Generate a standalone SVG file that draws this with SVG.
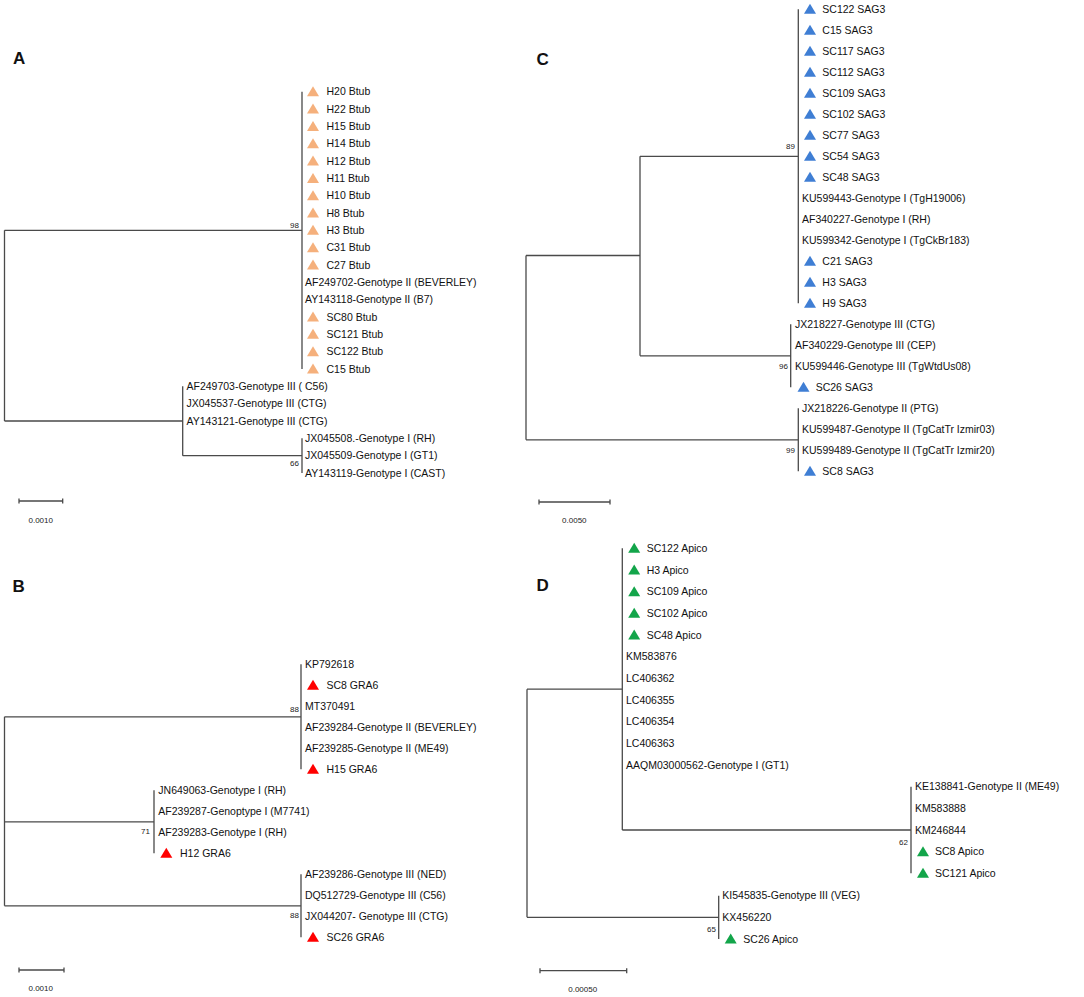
<svg xmlns="http://www.w3.org/2000/svg" xmlns:xlink="http://www.w3.org/1999/xlink" width="1084" height="997" viewBox="0 0 1084 997">
<style>
.t{font-family:"Liberation Sans",Arial,sans-serif;font-size:10.5px;fill:#111}
.bs{font-family:"Liberation Sans",Arial,sans-serif;font-size:8px;fill:#222;text-anchor:end}
.sc{font-family:"Liberation Sans",Arial,sans-serif;font-size:8px;fill:#222;text-anchor:middle}
.pl{font-family:"Liberation Sans",Arial,sans-serif;font-size:17px;font-weight:bold;fill:#111}
.br{stroke:#4a4a4a;stroke-width:1.3;fill:none}
.oA{fill:#F5B07C}.oB{fill:#FF0000}.oC{fill:#3F7ED4}.oD{fill:#13A54A}
</style>
<defs>
<polygon id="tri" points="0,-5.5 6,4.5 -6,4.5"/>
</defs>
<rect width="1084" height="997" fill="#fff"/>

<!-- Panel labels -->
<text class="pl" x="13" y="64">A</text>
<text class="pl" x="536.5" y="65">C</text>
<text class="pl" x="12.5" y="591.5">B</text>
<text class="pl" x="536.5" y="591">D</text>

<!-- Connectors -->
<g id="connectors" class="br">
<!-- A -->
<path d="M4.5,230.3V421M4.5,230.3H302M302,91.7V369M4.5,421H182.7M182.7,386.3V455.7M182.7,455.7H302M302,438.3V473"/>
<!-- B -->
<path d="M4.5,716.8V905.8M4.5,716.8H301M301,664.3V769.3M4.5,821.8H154M154,790.3V853.3M4.5,905.8H301M301,874.3V937.3"/>
<!-- C -->
<path d="M526,255.5V439.8M526,255.5H640M640,156.3V355.8M640,156.3H798.3M798.3,9.3V303.3M640,355.8H790.7M790.7,324.3V387.3M526,439.8H798.3M798.3,408.3V471.3"/>
<!-- D -->
<path d="M527,689.2V917.3M527,689.2H622.3M622.3,548.3V830M622.3,830H911M911,786.7V873.3M527,917.3H718.7M718.7,895.7V939"/>
<!-- scale bars -->
<path d="M19,501H62.7M19,498.5V503.5M62.7,498.5V503.5"/>
<path d="M19,970H64M19,967.5V972.5M64,967.5V972.5"/>
<path d="M539,502H610M539,499.5V504.5M610,499.5V504.5"/>
<path d="M540,970.7H626.7M540,968.2V973.2M626.7,968.2V973.2"/>
</g>

<!-- Bootstrap values and scale labels -->
<g id="support">
<text class="bs" x="299" y="228">98</text>
<text class="bs" x="299" y="466">66</text>
<text class="bs" x="299" y="712">88</text>
<text class="bs" x="150" y="834">71</text>
<text class="bs" x="299" y="918">88</text>
<text class="bs" x="795" y="149">89</text>
<text class="bs" x="788" y="369">96</text>
<text class="bs" x="795" y="453">99</text>
<text class="bs" x="908" y="845">62</text>
<text class="bs" x="716" y="931.5">65</text>
<text class="sc" x="40.7" y="523">0.0010</text>
<text class="sc" x="40.7" y="991">0.0010</text>
<text class="sc" x="574.3" y="523">0.0050</text>
<text class="sc" x="582.7" y="992">0.00050</text>
</g>

<!-- Panel A leaves -->
<g id="treeA">
<g class="oA">
<use xlink:href="#tri" x="313" y="91.7"/><use xlink:href="#tri" x="313" y="109"/><use xlink:href="#tri" x="313" y="126.4"/><use xlink:href="#tri" x="313" y="143.7"/><use xlink:href="#tri" x="313" y="161"/><use xlink:href="#tri" x="313" y="178.4"/><use xlink:href="#tri" x="313" y="195.7"/><use xlink:href="#tri" x="313" y="213"/><use xlink:href="#tri" x="313" y="230.3"/><use xlink:href="#tri" x="313" y="247.7"/><use xlink:href="#tri" x="313" y="265"/><use xlink:href="#tri" x="313" y="317"/><use xlink:href="#tri" x="313" y="334.3"/><use xlink:href="#tri" x="313" y="351.7"/><use xlink:href="#tri" x="313" y="369"/>
</g>
<text class="t" x="326.5" y="95.4">H20 Btub</text>
<text class="t" x="326.5" y="112.7">H22 Btub</text>
<text class="t" x="326.5" y="130.1">H15 Btub</text>
<text class="t" x="326.5" y="147.4">H14 Btub</text>
<text class="t" x="326.5" y="164.7">H12 Btub</text>
<text class="t" x="326.5" y="182.1">H11 Btub</text>
<text class="t" x="326.5" y="199.4">H10 Btub</text>
<text class="t" x="326.5" y="216.7">H8 Btub</text>
<text class="t" x="326.5" y="234">H3 Btub</text>
<text class="t" x="326.5" y="251.4">C31 Btub</text>
<text class="t" x="326.5" y="268.7">C27 Btub</text>
<text class="t" x="305" y="286">AF249702-Genotype II (BEVERLEY)</text>
<text class="t" x="305" y="303.4">AY143118-Genotype II (B7)</text>
<text class="t" x="326.5" y="320.7">SC80 Btub</text>
<text class="t" x="326.5" y="338">SC121 Btub</text>
<text class="t" x="326.5" y="355.4">SC122 Btub</text>
<text class="t" x="326.5" y="372.7">C15 Btub</text>
<text class="t" x="186.5" y="390">AF249703-Genotype III ( C56)</text>
<text class="t" x="186.5" y="407.4">JX045537-Genotype III (CTG)</text>
<text class="t" x="186.5" y="424.7">AY143121-Genotype III (CTG)</text>
<text class="t" x="305" y="442">JX045508.-Genotype I (RH)</text>
<text class="t" x="305" y="459.4">JX045509-Genotype I (GT1)</text>
<text class="t" x="305" y="476.7">AY143119-Genotype I (CAST)</text>
</g>

<!-- Panel B leaves -->
<g id="treeB">
<g class="oB">
<use xlink:href="#tri" x="313" y="685.3"/><use xlink:href="#tri" x="313" y="769.3"/><use xlink:href="#tri" x="166.3" y="853.3"/><use xlink:href="#tri" x="313" y="937.3"/>
</g>
<text class="t" x="305" y="668">KP792618</text>
<text class="t" x="326.5" y="689">SC8 GRA6</text>
<text class="t" x="305" y="710">MT370491</text>
<text class="t" x="305" y="731">AF239284-Genotype II (BEVERLEY)</text>
<text class="t" x="305" y="752">AF239285-Genotype II (ME49)</text>
<text class="t" x="326.5" y="773">H15 GRA6</text>
<text class="t" x="158.3" y="794">JN649063-Genotype I (RH)</text>
<text class="t" x="158.3" y="815">AF239287-Genoptype I (M7741)</text>
<text class="t" x="158.3" y="836">AF239283-Genotype I (RH)</text>
<text class="t" x="180" y="857">H12 GRA6</text>
<text class="t" x="305" y="878">AF239286-Genotype III (NED)</text>
<text class="t" x="305" y="899">DQ512729-Genotype III (C56)</text>
<text class="t" x="305" y="920">JX044207- Genotype III (CTG)</text>
<text class="t" x="326.5" y="941">SC26 GRA6</text>
</g>

<!-- Panel C leaves -->
<g id="treeC">
<g class="oC">
<use xlink:href="#tri" x="810" y="9.3"/><use xlink:href="#tri" x="810" y="30.3"/><use xlink:href="#tri" x="810" y="51.3"/><use xlink:href="#tri" x="810" y="72.3"/><use xlink:href="#tri" x="810" y="93.3"/><use xlink:href="#tri" x="810" y="114.3"/><use xlink:href="#tri" x="810" y="135.3"/><use xlink:href="#tri" x="810" y="156.3"/><use xlink:href="#tri" x="810" y="177.3"/><use xlink:href="#tri" x="810" y="261.3"/><use xlink:href="#tri" x="810" y="282.3"/><use xlink:href="#tri" x="810" y="303.3"/><use xlink:href="#tri" x="803.5" y="387.3"/><use xlink:href="#tri" x="810" y="471.3"/>
</g>
<text class="t" x="822.3" y="13">SC122 SAG3</text>
<text class="t" x="822.3" y="34">C15 SAG3</text>
<text class="t" x="822.3" y="55">SC117 SAG3</text>
<text class="t" x="822.3" y="76">SC112 SAG3</text>
<text class="t" x="822.3" y="97">SC109 SAG3</text>
<text class="t" x="822.3" y="118">SC102 SAG3</text>
<text class="t" x="822.3" y="139">SC77 SAG3</text>
<text class="t" x="822.3" y="160">SC54 SAG3</text>
<text class="t" x="822.3" y="181">SC48 SAG3</text>
<text class="t" x="802" y="202">KU599443-Genotype I (TgH19006)</text>
<text class="t" x="802" y="223">AF340227-Genotype I (RH)</text>
<text class="t" x="802" y="244">KU599342-Genotype I (TgCkBr183)</text>
<text class="t" x="822.3" y="265">C21 SAG3</text>
<text class="t" x="822.3" y="286">H3 SAG3</text>
<text class="t" x="822.3" y="307">H9 SAG3</text>
<text class="t" x="795" y="328">JX218227-Genotype III (CTG)</text>
<text class="t" x="795" y="349">AF340229-Genotype III (CEP)</text>
<text class="t" x="795" y="370">KU599446-Genotype III (TgWtdUs08)</text>
<text class="t" x="815.7" y="391">SC26 SAG3</text>
<text class="t" x="802" y="412">JX218226-Genotype II (PTG)</text>
<text class="t" x="802" y="433">KU599487-Genotype II (TgCatTr Izmir03)</text>
<text class="t" x="802" y="454">KU599489-Genotype II (TgCatTr Izmir20)</text>
<text class="t" x="822.3" y="475">SC8 SAG3</text>
</g>

<!-- Panel D leaves -->
<g id="treeD">
<g class="oD">
<use xlink:href="#tri" x="634.2" y="548.3"/><use xlink:href="#tri" x="634.2" y="570"/><use xlink:href="#tri" x="634.2" y="591.7"/><use xlink:href="#tri" x="634.2" y="613.3"/><use xlink:href="#tri" x="634.2" y="635"/><use xlink:href="#tri" x="923" y="851.7"/><use xlink:href="#tri" x="923" y="873.3"/><use xlink:href="#tri" x="730.7" y="939"/>
</g>
<text class="t" x="646.7" y="552">SC122 Apico</text>
<text class="t" x="646.7" y="573.7">H3 Apico</text>
<text class="t" x="646.7" y="595.4">SC109 Apico</text>
<text class="t" x="646.7" y="617">SC102 Apico</text>
<text class="t" x="646.7" y="638.7">SC48 Apico</text>
<text class="t" x="626" y="660.4">KM583876</text>
<text class="t" x="626" y="682">LC406362</text>
<text class="t" x="626" y="703.7">LC406355</text>
<text class="t" x="626" y="725.4">LC406354</text>
<text class="t" x="626" y="747">LC406363</text>
<text class="t" x="626" y="768.7">AAQM03000562-Genotype I (GT1)</text>
<text class="t" x="915" y="790.4">KE138841-Genotype II (ME49)</text>
<text class="t" x="915" y="812">KM583888</text>
<text class="t" x="915" y="833.7">KM246844</text>
<text class="t" x="935" y="855.4">SC8 Apico</text>
<text class="t" x="935" y="877">SC121 Apico</text>
<text class="t" x="722.3" y="899.4">KI545835-Genotype III (VEG)</text>
<text class="t" x="722.3" y="921">KX456220</text>
<text class="t" x="743.3" y="942.7">SC26 Apico</text>
</g>
</svg>
